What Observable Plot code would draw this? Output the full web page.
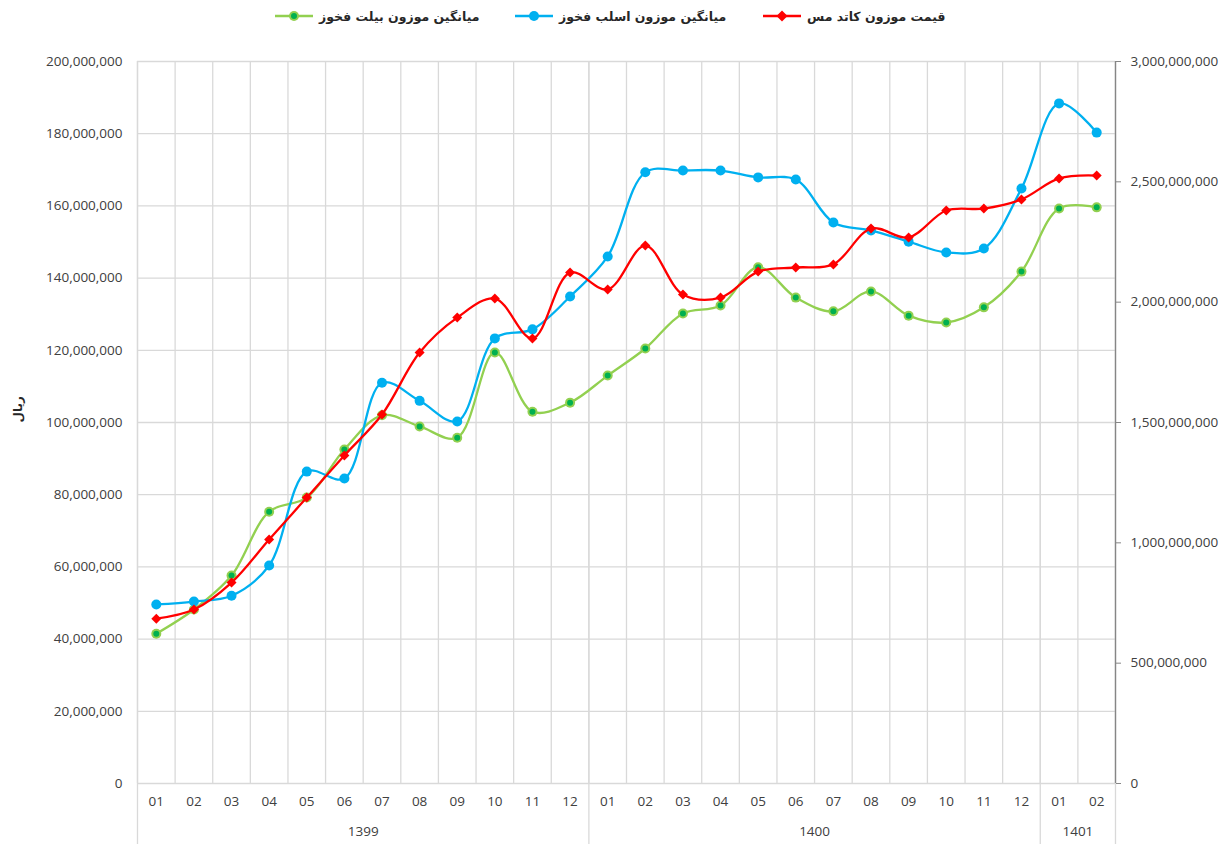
<!DOCTYPE html>
<html><head><meta charset="utf-8">
<script src="https://cdn.jsdelivr.net/npm/d3@7"></script>
<script src="https://cdn.jsdelivr.net/npm/@observablehq/plot@0.6"></script>
<style>
body{margin:0;background:#fff;font-family:"Open Sans",sans-serif;}
#legend{position:relative;height:30px;width:1227px;}
.item{position:absolute;top:6px;display:flex;align-items:center;height:20px;}
.item span{font-family:"DejaVu Sans",sans-serif;font-weight:bold;font-size:12.5px;color:#262626;margin-left:6px;white-space:nowrap;}
</style>
</head><body>
<div id="legend"></div>
<div id="chart"></div>
<script>
const monthLabels = ["01","02","03","04","05","06","07","08","09","10","11","12",
                     "01","02","03","04","05","06","07","08","09","10","11","12",
                     "01","02"];
const yearOf = ["1399","1399","1399","1399","1399","1399","1399","1399","1399","1399","1399","1399",
                "1400","1400","1400","1400","1400","1400","1400","1400","1400","1400","1400","1400",
                "1401","1401"];
const yearLabels = ["1399","1400","1401"];
// میانگین موزون بیلت فخوز (left axis, rial)
const billet = [41.5e6,48.2e6,57.6e6,75.3e6,79.2e6,92.5e6,102e6,98.9e6,95.8e6,119.4e6,103e6,105.5e6,
                113e6,120.5e6,130.2e6,132.4e6,143e6,134.6e6,130.8e6,136.3e6,129.6e6,127.7e6,131.9e6,141.8e6,
                159.3e6,159.6e6];
// میانگین موزون اسلب فخوز (left axis, rial)
const slab = [49.6e6,50.4e6,52e6,60.4e6,86.4e6,84.5e6,111e6,106e6,100.3e6,123.3e6,125.8e6,134.9e6,
              146e6,169.3e6,169.8e6,169.8e6,167.9e6,167.3e6,155.4e6,153.2e6,150.1e6,147.1e6,148.2e6,164.8e6,
              188.4e6,180.3e6];
// قیمت موزون کاتد مس (right axis, rial)
const cathode = [685e6,723e6,835e6,1014e6,1188e6,1363e6,1533e6,1791e6,1936e6,2015e6,1849e6,2123e6,
                 2053e6,2235e6,2032e6,2019e6,2127e6,2144e6,2157e6,2306e6,2269e6,2381e6,2389e6,2427e6,
                 2514e6,2526e6];
const leftTicks = d3.range(0, 200e6 + 1, 20e6);
const rightTicks = d3.range(0, 3000e6 + 1, 500e6);
const ratio = 3000e6 / 200e6;

const C_GREEN = "#92d050", C_GREEN_IN = "#00b050", C_BLUE = "#00b0f0", C_RED = "#ff0000";

const rows = monthLabels.map((m, i) => ({
  i, pos: i + 0.5, month: m, year: yearOf[i],
  billet: billet[i], slab: slab[i], cathode: cathode[i], cathodeL: cathode[i] / ratio
}));
const groups = yearLabels.map(y => {
  const idx = rows.filter(r => r.year === y).map(r => r.i);
  return {year: y, start: d3.min(idx), end: d3.max(idx) + 1};
});
const bounds = [0, ...groups.map(g => g.end)];
const fmt = d3.format(",");
const diamond = d3.symbolDiamond2 || d3.symbolDiamond;

const chart = Plot.plot({
  width: 1227, height: 814,
  marginLeft: 137, marginRight: 112, marginTop: 31, marginBottom: 61,
  x: {domain: [0, monthLabels.length], axis: null},
  y: {domain: [0, 200e6], axis: null},
  style: {fontFamily: "'Open Sans', sans-serif", fontSize: "13.5px", color: "#404040", background: "#fff"},
  marks: [
    Plot.ruleY(leftTicks, {stroke: "#d9d9d9", strokeWidth: 1.3}),
    Plot.ruleX(d3.range(monthLabels.length + 1), {stroke: "#d9d9d9", strokeWidth: 1.3}),
    Plot.ruleX(bounds, {stroke: "#d9d9d9", strokeWidth: 1.3, insetBottom: -61}),
    Plot.axisY(leftTicks, {anchor: "left", tickSize: 0, tickPadding: 15, tickFormat: fmt, fontSize: 13.5}),
    Plot.ruleX([monthLabels.length], {stroke: "#868686", strokeWidth: 1.3}),
    Plot.axisY(rightTicks.map(v => v / ratio), {anchor: "right", tickSize: 5, tickPadding: 10, stroke: "#868686",
      tickFormat: d => fmt(Math.round(d * ratio)), fontSize: 13.5}),
    Plot.text(rows, {x: "pos", text: "month", frameAnchor: "bottom", dy: 22, fontSize: 13.5, fill: "#404040"}),
    Plot.text(groups, {x: d => (d.start + d.end) / 2, text: "year", frameAnchor: "bottom", dy: 52, fontSize: 13.5, fill: "#404040"}),
    Plot.text(["ریال"], {frameAnchor: "left", dx: -119, rotate: -90, fontFamily: "'DejaVu Sans', sans-serif", fontWeight: "bold", fontSize: 12, fill: "#262626"}),
    // billet
    Plot.line(rows, {x: "pos", y: "billet", curve: "catmull-rom", stroke: C_GREEN, strokeWidth: 2.3}),
    Plot.dot(rows, {x: "pos", y: "billet", r: 5, fill: C_GREEN}),
    Plot.dot(rows, {x: "pos", y: "billet", r: 3, fill: C_GREEN_IN}),
    // slab
    Plot.line(rows, {x: "pos", y: "slab", curve: "catmull-rom", stroke: C_BLUE, strokeWidth: 2.3}),
    Plot.dot(rows, {x: "pos", y: "slab", r: 5, fill: C_BLUE}),
    // cathode (secondary axis)
    Plot.line(rows, {x: "pos", y: "cathodeL", curve: "catmull-rom", stroke: C_RED, strokeWidth: 2.3}),
    Plot.dot(rows, {x: "pos", y: "cathodeL", r: 4.5, symbol: diamond, fill: C_RED})
  ]
});
document.getElementById("chart").appendChild(chart);

// legend
const legendItems = [
  {label: "میانگین موزون بیلت فخوز", color: C_GREEN, inner: C_GREEN_IN, shape: "circle", left: 275},
  {label: "میانگین موزون اسلب فخوز", color: C_BLUE, inner: null, shape: "circle", left: 515},
  {label: "قیمت موزون کاتد مس", color: C_RED, inner: null, shape: "diamond", left: 763}
];
const leg = d3.select("#legend");
legendItems.forEach(it => {
  const d = leg.append("div").attr("class", "item").style("left", it.left + "px");
  const s = d.append("svg").attr("width", 38).attr("height", 14);
  s.append("line").attr("x1", 0).attr("x2", 38).attr("y1", 7).attr("y2", 7).attr("stroke", it.color).attr("stroke-width", 2.3);
  if (it.shape === "circle") {
    s.append("circle").attr("cx", 19).attr("cy", 7).attr("r", 5).attr("fill", it.color);
    if (it.inner) s.append("circle").attr("cx", 19).attr("cy", 7).attr("r", 3).attr("fill", it.inner);
  } else {
    s.append("path").attr("d", "M19,1.5L24.5,7L19,12.5L13.5,7Z").attr("fill", it.color);
  }
  d.append("span").attr("dir", "rtl").text(it.label);
});
</script>
</body></html>
